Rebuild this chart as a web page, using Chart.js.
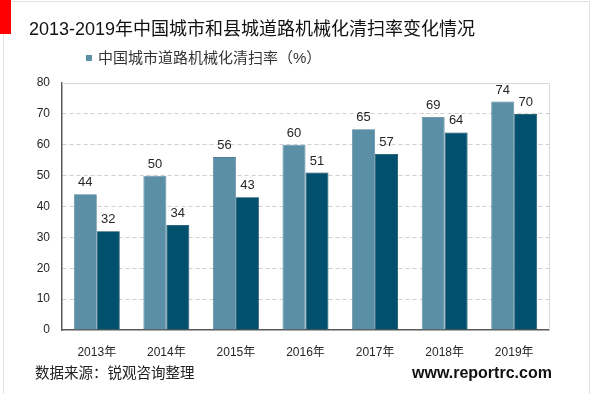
<!DOCTYPE html>
<html><head><meta charset="utf-8">
<script src="https://cdn.jsdelivr.net/npm/chart.js@4.4.0/dist/chart.umd.min.js"></script>
<style>
html,body{margin:0;padding:0;background:#fff;}
#wrap{position:relative;width:600px;height:394px;overflow:hidden;font-family:"Liberation Sans","Noto Sans CJK SC",sans-serif;}
#frame{position:absolute;left:3px;top:1px;width:587px;height:400px;border:1px solid #e3e3e3;box-sizing:border-box;}
#redbar{position:absolute;left:0;top:0;width:11px;height:34px;background:#f00;}
#title{position:absolute;left:29px;top:17px;font-size:18px;color:#111;white-space:nowrap;line-height:24px;}
#legend{position:absolute;left:86px;top:48px;font-size:15px;color:#333;white-space:nowrap;line-height:19px;}
#legend span.sw{display:inline-block;width:6px;height:6px;background:#5b8fa6;margin-right:6px;vertical-align:2px;}
#source{position:absolute;left:35px;top:364px;font-size:14.5px;color:#222;white-space:nowrap;line-height:18px;}
#url{position:absolute;left:412px;top:363px;font-size:16px;font-weight:bold;color:#111;white-space:nowrap;line-height:20px;}
canvas{position:absolute;left:0;top:0;}
</style></head>
<body>
<div id="wrap">
<div id="frame"></div>
<canvas id="c" width="600" height="394"></canvas>
<div id="redbar"></div>
<div id="title">2013-2019年中国城市和县城道路机械化清扫率变化情况</div>
<div id="legend"><span class="sw"></span>中国城市道路机械化清扫率（%）</div>
<div id="source">数据来源：锐观咨询整理</div>
<div id="url">www.reportrc.com</div>
</div>
<script>
const categories = ["2013年","2014年","2015年","2016年","2017年","2018年","2019年"];
const cityRate = [44,50,56,60,65,69,74];
const countyRate = [32,34,43,51,57,64,70];
const seriesNames = ["中国城市道路机械化清扫率（%）","中国县城道路机械化清扫率（%）"];
const yTicks = [0,10,20,30,40,50,60,70,80];

const FONT = '"Liberation Sans","Noto Sans CJK SC",sans-serif';

const frameBox = {
  id:'frameBox',
  beforeDatasetsDraw(chart){
    const {ctx, chartArea:a} = chart;
    ctx.save();
    ctx.strokeStyle = '#d9d9d9';
    ctx.lineWidth = 1;
    ctx.beginPath();
    ctx.moveTo(a.left, a.top+0.5); ctx.lineTo(a.right+0.5, a.top+0.5); ctx.lineTo(a.right+0.5, a.bottom);
    ctx.stroke();
    ctx.restore();
  }
};
const valueLabels = {
  id:'valueLabels',
  afterDatasetsDraw(chart){
    const ctx = chart.ctx;
    ctx.save();
    ctx.font = '13px ' + FONT;
    ctx.fillStyle = '#262626';
    ctx.textAlign = 'center';
    ctx.textBaseline = 'bottom';
    chart.data.datasets.forEach((ds,i)=>{
      chart.getDatasetMeta(i).data.forEach((bar,j)=>{
        ctx.fillText(String(ds.data[j]), bar.x, bar.y - 5);
      });
    });
    ctx.restore();
  }
};

new Chart(document.getElementById('c'), {
  type:'bar',
  data:{
    labels: categories,
    datasets:[
      {label: seriesNames[0], data: cityRate, backgroundColor:'#5b8fa6', borderColor:'#4f8299', borderWidth:0.8, barPercentage:1, categoryPercentage:0.66},
      {label: seriesNames[1], data: countyRate, backgroundColor:'#00506e', borderColor:'#003f58', borderWidth:0.8, barPercentage:1, categoryPercentage:0.66}
    ]
  },
  options:{
    responsive:false,
    animation:false,
    layout:{padding:{left:0,right:51,top:83,bottom:34}},
    plugins:{legend:{display:false},title:{display:false},tooltip:{enabled:false}},
    scales:{
      x:{
        grid:{display:false, drawTicks:false},
        border:{display:true,color:'#595959',width:1.5},
        ticks:{font:{size:12,family:FONT},color:'#262626',padding:15,maxRotation:0},
        afterFit(s){ s.height = 30; }
      },
      y:{
        min:0,max:80,
        afterBuildTicks(s){ s.ticks = yTicks.map(v=>({value:v})); },
        grid:{drawTicks:false,color:(c)=> (c.tick && (c.tick.value===0||c.tick.value===80)) ? 'rgba(0,0,0,0)' : '#cfcfcf', lineWidth:1},
        border:{display:true,color:'#595959',width:1.5,dash:[4,3]},
        ticks:{font:{size:12,family:FONT},color:'#262626',padding:12},
        afterFit(s){ s.width = 62; }
      }
    }
  },
  plugins:[frameBox,valueLabels]
});
</script>
</body></html>
